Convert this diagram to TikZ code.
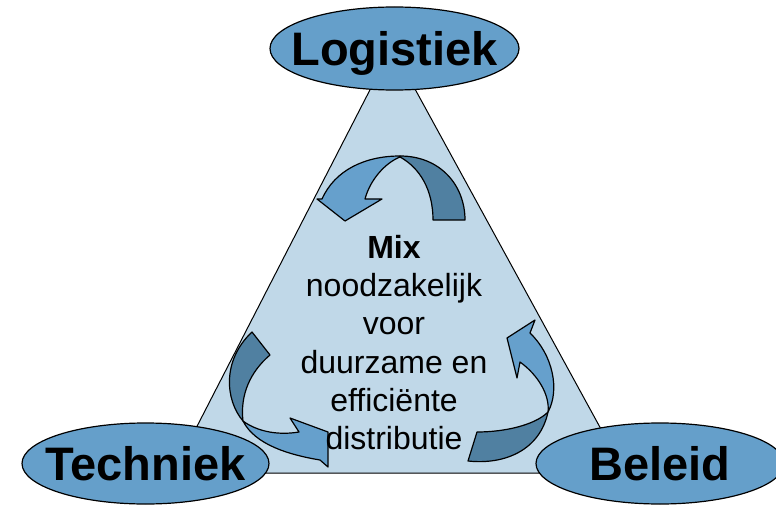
\documentclass[tikz,border=0pt]{standalone}
\usepackage{fontspec}
\setmainfont{Liberation Sans}
\usepackage{xcolor}
\usetikzlibrary{shapes.geometric}
\definecolor{triblue}{RGB}{192,216,232}
\definecolor{ovalblue}{RGB}{101,159,202}
\definecolor{arrowlite}{RGB}{102,160,204}
\definecolor{arrowdark}{RGB}{80,128,161}

\begin{document}
\begin{tikzpicture}[x=1pt,y=-1pt,
 oval/.style={draw,ellipse,line width=1.2pt,fill=ovalblue,minimum width=249pt,minimum height=83pt,inner sep=0pt},
 ovaltext/.style={font=\fontsize{47}{56}\selectfont\bfseries,text height=33.6pt,text depth=0pt,inner sep=0pt},
 litepart/.style={draw,line width=1.2pt,line join=round,fill=arrowlite},
 darkpart/.style={draw,line width=1.2pt,line join=round,fill=arrowdark}
]
\useasboundingbox (0,0) rectangle (776,505);
\coordinate (apex) at (392,47);
\coordinate (leftfoot) at (173,473);
\coordinate (rightfoot) at (625,473);
\draw[line width=1pt,fill=triblue] (apex) -- (leftfoot) -- (rightfoot) -- cycle;
\node[oval,label={[ovaltext]center:Logistiek}] (logistiek) at (394.5,48.5) {};
\node[oval,minimum width=247pt,minimum height=81pt,label={[ovaltext]center:Techniek}] (techniek) at (145.5,463.5) {};
\node[oval,minimum width=248pt,minimum height=81pt,label={[ovaltext]center:Beleid}] (beleid) at (660,463.5) {};
% top arrow
\draw[darkpart] (400,156) .. controls (440,156) and (465,185) .. (465,220) -- (433,220)
  .. controls (433,190) and (420,168) .. (400,157) -- cycle;
\draw[litepart] (400,156) .. controls (365,156) and (335,170) .. (322,199) -- (317,199) -- (345,221)
  -- (382,199) -- (365,199) .. controls (370,180) and (385,163) .. (400,157) -- cycle;
% left arrow
\draw[darkpart] (252,332) -- (270,355) .. controls (250,372) and (240,395) .. (243,421)
  .. controls (225,400) and (222,360) .. (252,332) -- cycle;
\draw[litepart] (243,421) .. controls (255,445) and (290,455) .. (320,460) -- (328,467) -- (328,432)
  -- (290,418) -- (299,432) .. controls (275,436) and (255,430) .. (243,421) -- cycle;
% right arrow
\draw[darkpart] (477,432) -- (468,461) .. controls (505,465) and (540,450) .. (548,412)
  .. controls (535,425) and (505,432) .. (477,432) -- cycle;
\draw[litepart] (548,412) .. controls (560,390) and (553,355) .. (530,333) -- (535,320) -- (507,338)
  -- (517,378) -- (520,362) .. controls (538,375) and (550,395) .. (548,412) -- cycle;
\node[anchor=north,inner sep=0pt,align=center,font=\fontsize{32}{38.3}\selectfont] (mixtext) at (394,235)
  {\textbf{Mix}\\noodzakelijk\\voor\\duurzame en\\efficiënte\\distributie};
\end{tikzpicture}
\end{document}
